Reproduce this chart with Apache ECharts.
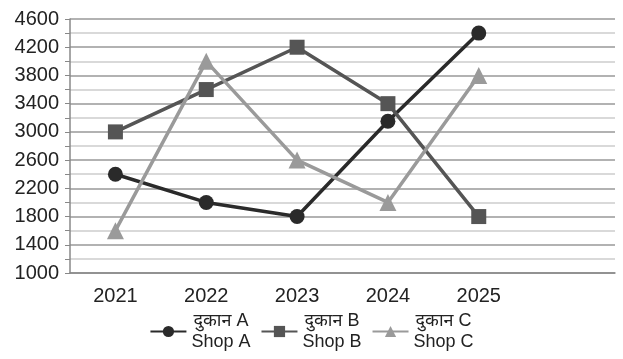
<!DOCTYPE html>
<html>
<head>
<meta charset="utf-8">
<script src="https://cdn.jsdelivr.net/npm/echarts@6/dist/echarts.min.js"></script>
<style>
  html, body { margin: 0; padding: 0; background: #fff; }
  #chart { width: 623px; height: 359px; }
</style>
</head>
<body>
<div id="chart"></div>
<script>
// years on the x axis (last slot is empty space, as in the picture)
var years = ['2021', '2022', '2023', '2024', '2025', ''];
var shopA = [2400, 2000, 1800, 3150, 4400];
var shopB = [3000, 3600, 4200, 3400, 1800];
var shopC = [1600, 4000, 2600, 2000, 3800];
var names = ['दुकान A\nShop A', 'दुकान B\nShop B', 'दुकान C\nShop C'];

var chart = echarts.init(document.getElementById('chart'));
var font = 'Liberation Sans, Noto Sans, sans-serif';

var option = {
  animation: false,
  textStyle: { fontFamily: font },
  grid: { left: 70, right: 8, top: 19, bottom: 86 },
  legend: {
    bottom: 3,
    left: 'center',
    itemWidth: 36,
    itemHeight: 14,
    itemGap: 10,
    formatter: function (n) {
      return n.split('\n').map(function (s) { return '{c|' + s + '}'; }).join('\n');
    },
    textStyle: {
      fontSize: 18, color: '#222', fontFamily: font,
      rich: { c: { fontSize: 18, lineHeight: 21, align: 'center', fontFamily: font, color: '#222' } }
    },
    data: names
  },
  xAxis: {
    type: 'category',
    data: years,
    boundaryGap: true,
    axisLine: { lineStyle: { color: '#888', width: 1.5 } },
    axisTick: { alignWithLabel: true, length: 5, lineStyle: { color: '#888' },
      interval: function (i) { return i < 5; } },
    axisLabel: { fontSize: 20, color: '#222', margin: 13 }
  },
  yAxis: {
    type: 'value',
    min: 1000,
    max: 4600,
    interval: 200,
    axisLine: { show: true, lineStyle: { color: '#888', width: 1.5 } },
    axisTick: { show: true, length: 5, lineStyle: { color: '#888' },
      interval: function (i, v) { return (v - 1000) % 400 === 0; } },
    axisLabel: {
      fontSize: 20, color: '#222', margin: 11,
      formatter: function (v) { return (v - 1000) % 400 === 0 ? v : ''; }
    },
    splitLine: { lineStyle: { color: ['#999', '#ccc'], width: 1.5 } }
  },
  series: [
    { name: names[0], type: 'line', data: shopA, symbol: 'circle', symbolSize: 15,
      itemStyle: { color: '#2a2a2a' }, lineStyle: { width: 3.5, color: '#2a2a2a' } },
    { name: names[1], type: 'line', data: shopB, symbol: 'rect', symbolSize: 15,
      itemStyle: { color: '#555' }, lineStyle: { width: 3.5, color: '#555' } },
    { name: names[2], type: 'line', data: shopC, symbol: 'triangle', symbolSize: 17,
      itemStyle: { color: '#9a9a9a' }, lineStyle: { width: 3.5, color: '#9a9a9a' } }
  ]
};
chart.setOption(option);
</script>
</body>
</html>
